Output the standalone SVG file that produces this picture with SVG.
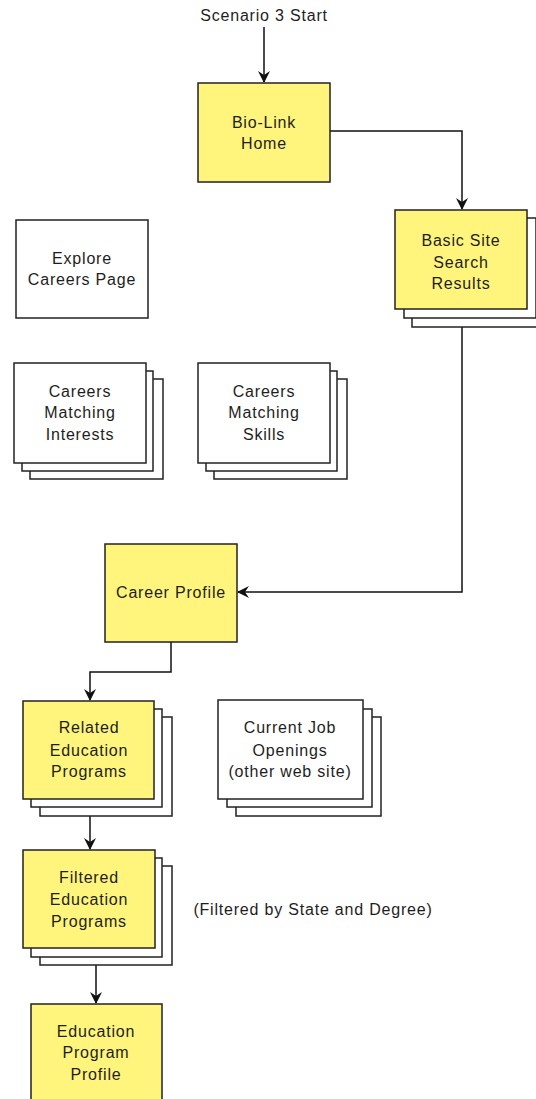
<svg xmlns="http://www.w3.org/2000/svg" width="536" height="1099" viewBox="0 0 536 1099">
<style>
.box{stroke:#222;stroke-width:1.5}
.y{fill:#FFF57C}
.w{fill:#fff}
text{font-family:"Liberation Sans",Arial,sans-serif;font-size:16px;fill:#1e1e1e;text-anchor:middle;letter-spacing:0.8px}
.c{fill:none;stroke:#111;stroke-width:1.5}
</style>
<defs>
<marker id="ah" viewBox="0 0 12 12" refX="11" refY="6" markerWidth="12" markerHeight="12" markerUnits="userSpaceOnUse" orient="auto">
<path d="M0,0 L12,6 L0,12 L4,6 z" fill="#111"/>
</marker>
</defs>
<rect width="536" height="1099" fill="#fff"/>
<g id="connectors">
<path class="c" d="M264,27 V82" marker-end="url(#ah)"/>
<path class="c" d="M330,131 H462 V209" marker-end="url(#ah)"/>
<path class="c" d="M462,327 V592 H238" marker-end="url(#ah)"/>
<path class="c" d="M171,642 V672 H90 V700" marker-end="url(#ah)"/>
<path class="c" d="M90,816 V849" marker-end="url(#ah)"/>
<path class="c" d="M96,965 V1003" marker-end="url(#ah)"/>
</g>
<g id="start"><text x="264" y="21">Scenario 3 Start</text></g>
<g id="biolink">
<rect class="box y" x="198" y="83" width="132" height="99"/>
<text x="264" y="128">Bio-Link</text><text x="264" y="149">Home</text>
</g>
<g id="basic-search">
<rect class="box w" x="412" y="227" width="132" height="100"/>
<rect class="box w" x="404" y="218" width="132" height="100"/>
<rect class="box y" x="395" y="210" width="132" height="99"/>
<text x="461" y="246">Basic Site</text><text x="461" y="268">Search</text><text x="461" y="289">Results</text>
</g>
<g id="explore">
<rect class="box w" x="16" y="220" width="132" height="98"/>
<text x="82" y="264">Explore</text><text x="82" y="285">Careers Page</text>
</g>
<g id="interests">
<rect class="box w" x="30" y="379" width="133" height="100"/>
<rect class="box w" x="22" y="371" width="131" height="100"/>
<rect class="box w" x="14" y="363" width="132" height="100"/>
<text x="80" y="397">Careers</text><text x="80" y="418">Matching</text><text x="80" y="440">Interests</text>
</g>
<g id="skills">
<rect class="box w" x="214" y="379" width="133" height="100"/>
<rect class="box w" x="206" y="371" width="131" height="100"/>
<rect class="box w" x="198" y="363" width="132" height="100"/>
<text x="264" y="397">Careers</text><text x="264" y="418">Matching</text><text x="264" y="440">Skills</text>
</g>
<g id="career-profile">
<rect class="box y" x="105" y="544" width="132" height="98"/>
<text x="171" y="598">Career Profile</text>
</g>
<g id="related-ed">
<rect class="box w" x="40" y="717" width="132" height="99"/>
<rect class="box w" x="31" y="709" width="131" height="98"/>
<rect class="box y" x="23" y="701" width="131" height="98"/>
<text x="89" y="733">Related</text><text x="89" y="756">Education</text><text x="89" y="777">Programs</text>
</g>
<g id="job-openings">
<rect class="box w" x="236" y="717" width="145" height="99"/>
<rect class="box w" x="227" y="709" width="145" height="98"/>
<rect class="box w" x="218" y="700" width="145" height="99"/>
<text x="290" y="733">Current Job</text><text x="290" y="756">Openings</text><text x="290" y="777">(other web site)</text>
</g>
<g id="filtered-ed">
<rect class="box w" x="40" y="866" width="132" height="99"/>
<rect class="box w" x="31" y="858" width="131" height="99"/>
<rect class="box y" x="23" y="850" width="132" height="98"/>
<text x="89" y="883">Filtered</text><text x="89" y="905">Education</text><text x="89" y="927">Programs</text>
</g>
<g id="filter-note"><text x="313" y="915">(Filtered by State and Degree)</text></g>
<g id="ed-profile">
<rect class="box y" x="31" y="1004" width="131" height="100"/>
<text x="96" y="1037">Education</text><text x="96" y="1058">Program</text><text x="96" y="1080">Profile</text>
</g>
</svg>
